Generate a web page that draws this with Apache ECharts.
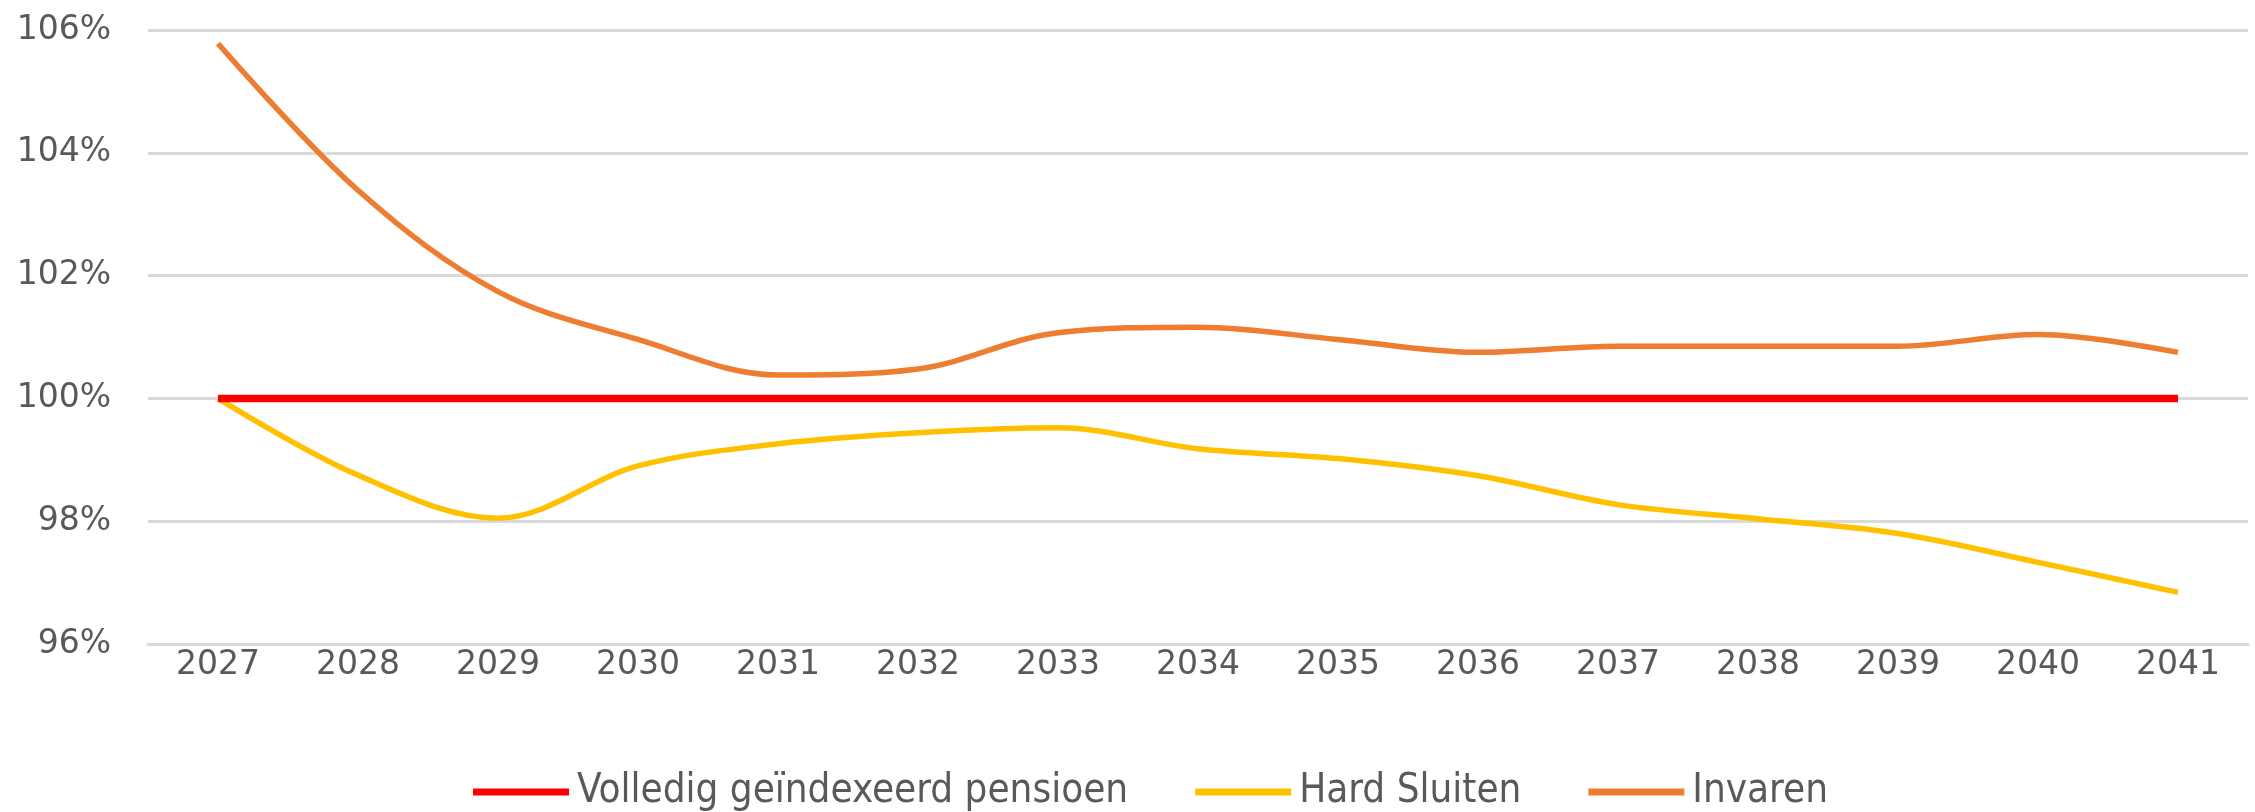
<!DOCTYPE html>
<html>
<head>
<meta charset="utf-8">
<script src="https://cdn.jsdelivr.net/npm/echarts@6/dist/echarts.min.js"></script>
<style>html,body{margin:0;padding:0;background:#fff}#c{width:2255px;height:812px}</style>
</head>
<body>
<div id="c"></div>
<script>
const years = ['2027','2028','2029','2030','2031','2032','2033','2034','2035','2036','2037','2038','2039','2040','2041'];
const volledig = [100,100,100,100,100,100,100,100,100,100,100,100,100,100,100];
const hardSluiten = [100,98.75,98.05,98.90,99.26,99.44,99.52,99.18,99.02,98.74,98.27,98.04,97.80,97.33,96.84];
const invaren = [105.78,103.39,101.74,100.96,100.38,100.48,101.07,101.16,100.96,100.75,100.85,100.85,100.85,101.04,100.75];
const seriesNames = ['Volledig geïndexeerd pensioen','Hard Sluiten','Invaren'];

const font = 'DejaVu Sans';
const legendFont = "'DejaVu Sans Condensed', 'Liberation Sans Narrow', 'DejaVu Sans'";
const chart = echarts.init(document.getElementById('c'), null, {renderer:'canvas'});
chart.setOption({
  animation:false,
  backgroundColor:'#ffffff',
  textStyle:{fontFamily:font},
  grid:{left:148,right:7,top:30,bottom:168,containLabel:false},
  legend:{
    top:767, left:468,
    itemWidth:96, itemHeight:7, itemGap:67,
    icon:'rect',
    textStyle:{color:'#595959',fontSize:40,fontFamily:legendFont,padding:[0,0,0,3]},
    data:seriesNames
  },
  xAxis:{
    type:'category', data:years, boundaryGap:true,
    axisLine:{show:true,lineStyle:{color:'#d9d9d9',width:3}},
    axisTick:{show:false},
    axisLabel:{color:'#595959',fontSize:33,fontFamily:font,margin:5}
  },
  yAxis:{
    type:'value', min:96, max:106, interval:2,
    axisLine:{show:false}, axisTick:{show:false},
    splitLine:{lineStyle:{color:'#d9d9d9',width:3}},
    axisLabel:{color:'#595959',fontSize:33,fontFamily:font,margin:37,formatter:'{value}%'}
  },
  series:[
    {name:seriesNames[0],type:'line',data:volledig,symbol:'none',smooth:false,lineStyle:{color:'#ff0000',width:7.5},itemStyle:{color:'#ff0000'},z:3},
    {name:seriesNames[1],type:'line',data:hardSluiten,symbol:'none',smooth:0.35,lineStyle:{color:'#ffc000',width:5.5},itemStyle:{color:'#ffc000'},z:2},
    {name:seriesNames[2],type:'line',data:invaren,symbol:'none',smooth:0.35,lineStyle:{color:'#ed7d31',width:5.5},itemStyle:{color:'#ed7d31'},z:2}
  ]
});
</script>
</body>
</html>
